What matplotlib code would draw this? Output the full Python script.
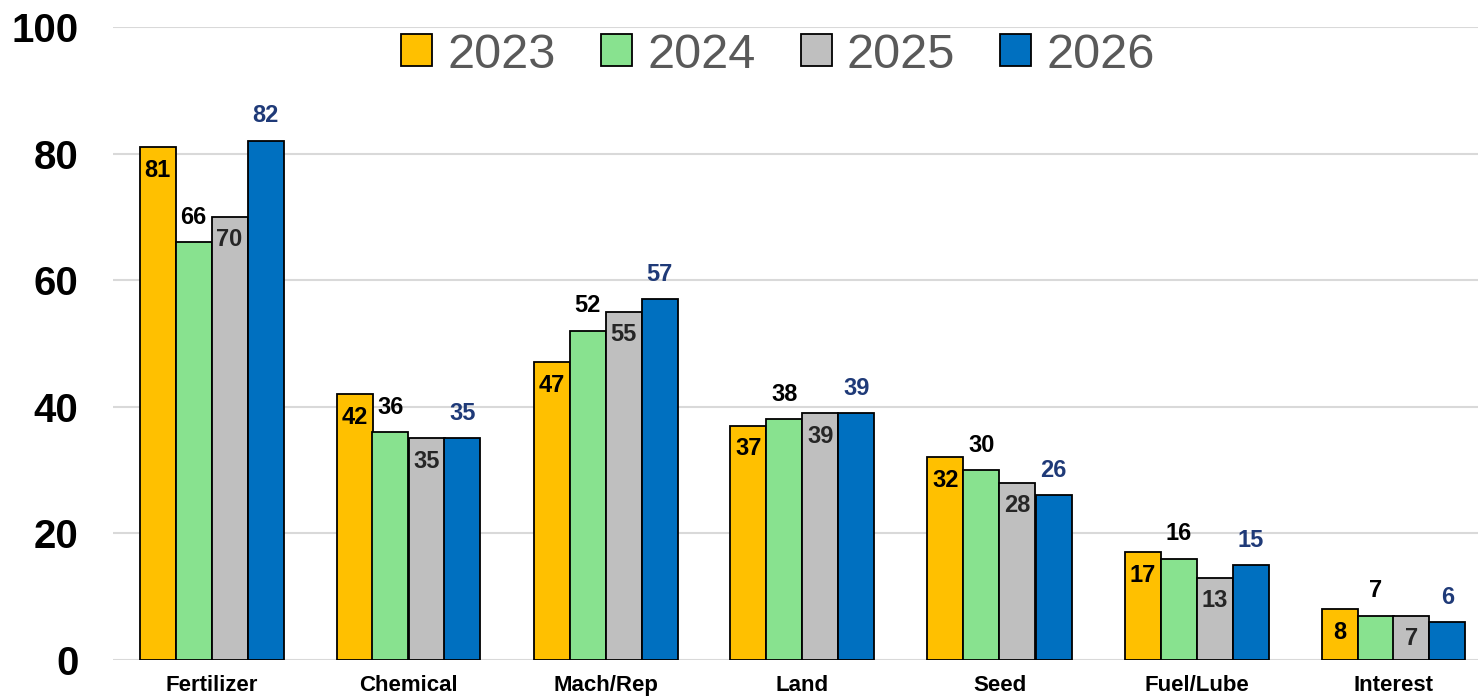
import matplotlib
matplotlib.use("Agg")
import matplotlib.pyplot as plt
import numpy as np

plt.rcParams['font.family'] = ['Liberation Sans', 'DejaVu Sans']

categories = ["Fertilizer", "Chemical", "Mach/Rep", "Land", "Seed", "Fuel/Lube", "Interest"]
years = ["2023", "2024", "2025", "2026"]
v2023 = [81, 42, 47, 37, 32, 17, 8]
v2024 = [66, 36, 52, 38, 30, 16, 7]
v2025 = [70, 35, 55, 39, 28, 13, 7]
v2026 = [82, 35, 57, 39, 26, 15, 6]
series = [v2023, v2024, v2025, v2026]
colors = ["#FFC000", "#88E28F", "#BFBFBF", "#0070C0"]
label_colors = ["black", "black", "#262626", "#1F3A78"]
inside = [True, False, True, False]

W, H = 1478, 697
fig = plt.figure(figsize=(W / 100, H / 100), dpi=100)
left, right, top, bottom = 113, 1478, 27, 660
ax = fig.add_axes([left / W, 1 - bottom / H, (right - left) / W, (bottom - top) / H])

cat_px = 197.0
x = np.arange(len(categories))
bw = 36 / cat_px
for i, (vals, c) in enumerate(zip(series, colors)):
    pos = x + (i - 1.5) * bw
    ax.bar(pos, vals, width=bw, color=c, edgecolor="black", linewidth=1.3,
           label=years[i], zorder=3)
    for p, v in zip(pos, vals):
        off = -23 if inside[i] else 25
        ax.annotate(str(v), (p, v), xytext=(0, off), textcoords="offset pixels",
                    ha="center", va="center", fontsize=17, fontweight="bold",
                    color=label_colors[i], zorder=4)

ax.set_xlim(-0.5, -0.5 + (right - left) / cat_px)
ax.set_ylim(0, 100)
ax.set_yticks(range(0, 101, 20))
ax.set_yticklabels([str(t) for t in range(0, 101, 20)], fontsize=29, fontweight="bold")
ax.set_xticks(x)
ax.set_xticklabels(categories, fontsize=16, fontweight="bold")
ax.tick_params(axis="both", length=0)
ax.tick_params(axis="y", pad=25)
ax.tick_params(axis="x", pad=11)
ax.yaxis.grid(True, color="#D9D9D9", linewidth=1.5, zorder=0)
ax.set_axisbelow(True)
for s in ax.spines.values():
    s.set_visible(False)

leg = fig.legend(loc="center", bbox_to_anchor=(778 / W, 1 - 55 / H), ncol=4,
                 frameon=False, fontsize=35, handlelength=0.64, handleheight=0.64,
                 handletextpad=0.31, columnspacing=0.93, borderaxespad=0)
for t in leg.get_texts():
    t.set_color("#595959")

fig.savefig("out.png", dpi=100)
